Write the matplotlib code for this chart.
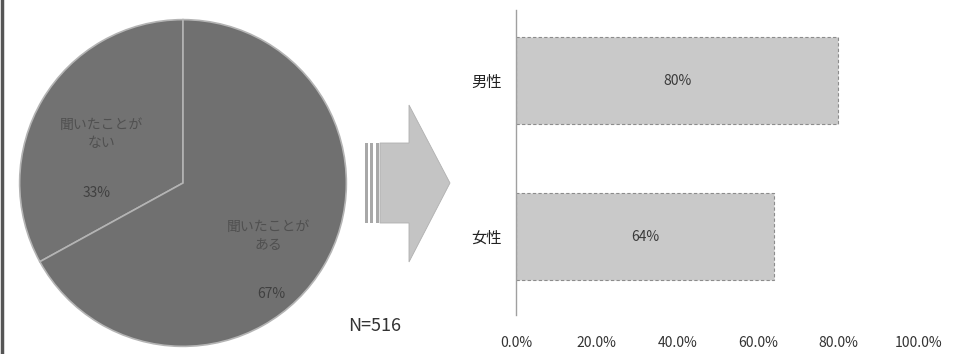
import matplotlib
matplotlib.use("Agg")
import matplotlib.pyplot as plt
from matplotlib.patches import Polygon, Rectangle
from matplotlib.lines import Line2D

plt.rcParams['font.family'] = ['Noto Sans CJK JP', 'DejaVu Sans']

# pie data (share of all respondents)
pie_labels = ['聞いたことが\nない', '聞いたことが\nある']
pie_values = [33, 67]

# bar data (by gender)
genders = ['女性', '男性']
gender_values = [64, 80]
x_ticks = [0, 20, 40, 60, 80, 100]
n_text = 'N=516'

W, H = 963, 354
fig = plt.figure(figsize=(W / 100, H / 100), dpi=100)
fig.patch.set_facecolor('white')

# overlay axes in pixel coordinates for decorations (arrow, frame line)
deco = fig.add_axes([0, 0, 1, 1])
deco.set_xlim(0, W)
deco.set_ylim(H, 0)
deco.axis('off')
deco.add_line(Line2D([1.5, 1.5], [0, H], color='#555555', lw=2.5))

# block arrow with striped tail
arrow_pts = [(380, 143), (409, 143), (409, 105), (450, 183),
             (409, 262), (409, 223), (380, 223)]
deco.add_patch(Polygon(arrow_pts, closed=True, facecolor='#c4c4c4',
                       edgecolor='#b0b0b0', lw=0.6))
for sx, sw in [(365, 2.5), (370, 3), (375.5, 3)]:
    deco.add_patch(Rectangle((sx, 143), sw, 80, facecolor='#a8a8a8',
                             edgecolor='none'))

# pie chart
cx, cy, r = 183, 183, 165
pie_ax = fig.add_axes([(cx - r) / W, (H - cy - r) / H, 2 * r / W, 2 * r / H])
wedges, _ = pie_ax.pie(pie_values, startangle=90, counterclock=True,
                       colors=['#727272', '#707070'],
                       wedgeprops=dict(edgecolor='#b4b4b4', linewidth=1.2))
pie_ax.set_xlim(-1.01, 1.01)
pie_ax.set_ylim(-1.01, 1.01)
pie_ax.set_aspect('auto')

label_pos = [(-0.50, 0.30), (0.52, -0.32)]
for lab, val, (lx, ly) in zip(pie_labels, pie_values, label_pos):
    pie_ax.text(lx, ly, lab, ha='center', va='center', fontsize=10,
                color='#505050', linespacing=1.3)
    pie_ax.text(lx - 0.03 if val < 50 else lx + 0.02, ly - 0.36,
                f'{val}%', ha='center', va='center', fontsize=10,
                color='#404040')

fig.text(375 / W, 1 - 326 / H, n_text, ha='center', va='center',
         fontsize=13, color='#333333')

# horizontal bar chart
bar_left, bar_right = 516, 919
bar_top, bar_bottom = 10, 315
bax = fig.add_axes([bar_left / W, (H - bar_bottom) / H,
                    (bar_right - bar_left) / W, (bar_bottom - bar_top) / H])
ypos = list(range(len(genders)))
bax.barh(ypos, gender_values, height=0.56, color='#c9c9c9',
         edgecolor='#8c8c8c', linewidth=0.8, linestyle=(0, (3, 2)))
for y, v in zip(ypos, gender_values):
    bax.text(v / 2, y, f'{v}%', ha='center', va='center', fontsize=10,
             color='#3a3a3a')

bax.set_xlim(0, 100)
bax.set_ylim(-0.503, 1.452)
bax.set_xticks(x_ticks)
bax.set_xticklabels([f'{t:.1f}%' for t in x_ticks])
bax.set_yticks(ypos)
bax.set_yticklabels(genders)
bax.tick_params(axis='x', length=0, pad=15, labelsize=10, colors='#333333')
bax.tick_params(axis='y', length=0, pad=10, labelsize=11, colors='#222222')
for side in ['top', 'right', 'bottom']:
    bax.spines[side].set_visible(False)
bax.spines['left'].set_color('#a0a0a0')
bax.spines['left'].set_linewidth(1)

fig.savefig('out.png', dpi=100)
